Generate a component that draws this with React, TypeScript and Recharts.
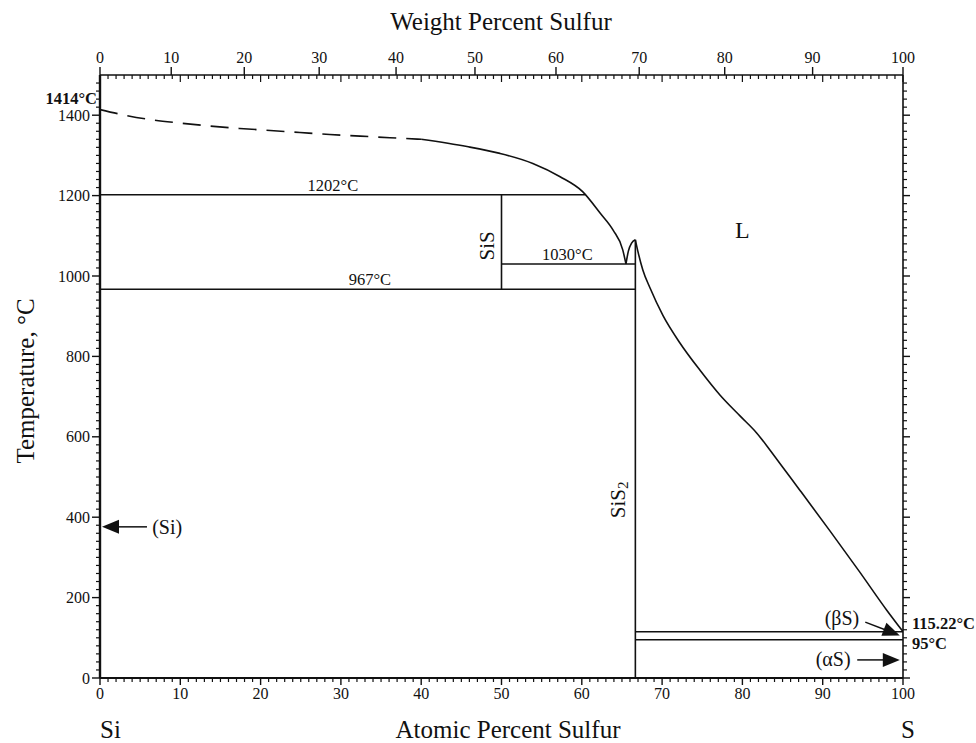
import React from 'react';
import { ComposedChart, Line, XAxis, YAxis, ReferenceLine, ReferenceDot } from 'recharts';

const FONT = '"Liberation Serif", "Times New Roman", serif';
const INK = '#111';

// atomic weights, used to place the weight-percent scale on top
const M_SI = 28.0855;
const M_S = 32.06;

const weightTicks = [0, 10, 20, 30, 40, 50, 60, 70, 80, 90, 100];
const atomicTicks = [0, 10, 20, 30, 40, 50, 60, 70, 80, 90, 100];
const tempTicks = [0, 200, 400, 600, 800, 1000, 1200, 1400];

// liquidus, Si side (dashed = estimated)
const liquidusDashed = [
  { a: 0, t: 1414 },
  { a: 3.1, t: 1400 },
  { a: 6.6, t: 1388 },
  { a: 10.2, t: 1380 },
  { a: 13.7, t: 1373 },
  { a: 17.4, t: 1367 },
  { a: 21.2, t: 1362 },
  { a: 24.9, t: 1357 },
  { a: 28.6, t: 1352 },
  { a: 32.4, t: 1348 },
  { a: 36.1, t: 1344 },
  { a: 40.0, t: 1340 },
];

const liquidusSolid = [
  { a: 40.0, t: 1340 },
  { a: 45.7, t: 1322 },
  { a: 49.8, t: 1305 },
  { a: 53.9, t: 1280 },
  { a: 57.3, t: 1247 },
  { a: 60.1, t: 1210 },
  { a: 62.3, t: 1156 },
  { a: 63.9, t: 1114 },
  { a: 65.1, t: 1065 },
  { a: 65.5, t: 1030 },
];

// eutectic up to the SiS2 congruent melting point
const sis2LeftBranch = [
  { a: 65.5, t: 1030 },
  { a: 65.8, t: 1062 },
  { a: 66.2, t: 1082 },
  { a: 66.67, t: 1090 },
];

const sis2RightBranch = [
  { a: 66.67, t: 1090 },
  { a: 67.0, t: 1060 },
  { a: 67.6, t: 1015 },
  { a: 68.5, t: 970 },
  { a: 70.1, t: 902 },
  { a: 72.2, t: 834 },
  { a: 74.7, t: 766 },
  { a: 77.2, t: 704 },
  { a: 79.7, t: 652 },
  { a: 81.8, t: 609 },
  { a: 83.4, t: 568 },
  { a: 85.0, t: 525 },
  { a: 87.2, t: 466 },
  { a: 90.9, t: 366 },
  { a: 94.6, t: 264 },
  { a: 98.0, t: 168 },
  { a: 100, t: 115.22 },
];

// horizontal invariant lines: temperature, from, to (at.% S)
const isotherms = [
  { t: 1202, from: 0, to: 60.4 },
  { t: 1030, from: 50, to: 66.67 },
  { t: 967, from: 0, to: 66.67 },
  { t: 115.22, from: 66.67, to: 100 },
  { t: 95, from: 66.67, to: 100 },
];

// line compounds: composition, bottom, top
const compounds = [
  { a: 50, from: 967, to: 1202 },
  { a: 66.67, from: 0, to: 1090 },
];

const toAtomic = (w: number) => {
  const s = w / M_S;
  const si = (100 - w) / M_SI;
  return (100 * s) / (s + si);
};

const wtPositions = weightTicks.map(toAtomic);
const atMinor = Array.from({ length: 101 }, (_, i) => i);
const topTicks = Array.from(new Set([...atMinor, ...wtPositions])).sort((p, q) => p - q);
const tempMinor = Array.from({ length: 75 }, (_, i) => i * 20);

function TopTick({ x, y, payload }: any) {
  const v = payload.value;
  const wi = wtPositions.findIndex((p) => Math.abs(p - v) < 1e-6);
  const isAt = Math.abs(v - Math.round(v)) < 1e-6;
  return (
    <g>
      {isAt && (
        <line x1={x} y1={y} x2={x} y2={y + (Math.round(v) % 10 === 0 ? 7 : 4)} stroke={INK} strokeWidth={1.2} />
      )}
      {wi >= 0 && (
        <>
          <line x1={x} y1={y} x2={x} y2={y - 8} stroke={INK} strokeWidth={1.4} />
          <text x={x} y={y - 12} textAnchor="middle" fontSize={16} fontFamily={FONT} fill={INK}>
            {weightTicks[wi]}
          </text>
        </>
      )}
    </g>
  );
}

function BottomTick({ x, y, payload }: any) {
  const v = payload.value;
  const major = atomicTicks.includes(v);
  return (
    <g>
      <line x1={x} y1={y} x2={x} y2={y + (major ? 7 : 4)} stroke={INK} strokeWidth={major ? 1.4 : 1.2} />
      {major && (
        <text x={x} y={y + 21} textAnchor="middle" fontSize={16} fontFamily={FONT} fill={INK}>
          {v}
        </text>
      )}
    </g>
  );
}

function LeftTick({ x, y, payload }: any) {
  const v = payload.value;
  const major = tempTicks.includes(v);
  return (
    <g>
      <line x1={x} y1={y} x2={x - (major ? 8 : 4)} y2={y} stroke={INK} strokeWidth={major ? 1.4 : 1.2} />
      {major && (
        <text x={x - 10} y={y + 5.5} textAnchor="end" fontSize={16} fontFamily={FONT} fill={INK}>
          {v}
        </text>
      )}
    </g>
  );
}

function RightTick({ x, y, payload }: any) {
  const v = payload.value;
  const major = tempTicks.includes(v);
  return <line x1={x} y1={y} x2={x + (major ? 7 : 4)} y2={y} stroke={INK} strokeWidth={major ? 1.4 : 1.2} />;
}

function ArrowShape(props: any) {
  const { x1, y1, x2, y2 } = props;
  const dx = x2 - x1;
  const dy = y2 - y1;
  const len = Math.hypot(dx, dy) || 1;
  const ux = dx / len;
  const uy = dy / len;
  const hl = 17;
  const hw = 7;
  const bx = x2 - ux * hl;
  const by = y2 - uy * hl;
  return (
    <g>
      <line x1={x1} y1={y1} x2={bx + ux * 2} y2={by + uy * 2} stroke={INK} strokeWidth={1.5} />
      <polygon
        points={`${x2},${y2} ${bx - uy * hw},${by + ux * hw} ${bx + uy * hw},${by - ux * hw}`}
        fill={INK}
      />
    </g>
  );
}

const axisIds = { xAxisId: 'at', yAxisId: 'left' } as const;

function note(key: string, a: number, t: number, render: (cx: number, cy: number) => React.ReactElement) {
  return (
    <ReferenceDot
      key={key}
      {...axisIds}
      x={a}
      y={t}
      r={1}
      ifOverflow="visible"
      shape={(p: any) => render(p.cx, p.cy)}
    />
  );
}

export default function App() {
  const lineProps = {
    yAxisId: 'left',
    dataKey: 't',
    type: 'monotone' as const,
    stroke: INK,
    strokeWidth: 1.6,
    dot: false,
    activeDot: false,
    isAnimationActive: false,
  };

  return (
    <div style={{ position: 'absolute', left: 0, top: 0, width: 976, height: 743, background: '#fff' }}>
      <ComposedChart width={976} height={743} margin={{ top: 45, right: 43, bottom: 35, left: 60 }}>
        <XAxis
          xAxisId="at"
          type="number"
          dataKey="a"
          orientation="bottom"
          domain={[0, 100]}
          allowDataOverflow
          ticks={atMinor}
          interval={0}
          height={30}
          tickSize={0}
          tickMargin={0}
          tickLine={false}
          tick={<BottomTick />}
          axisLine={{ stroke: INK, strokeWidth: 2 }}
        />
        <XAxis
          xAxisId="top"
          type="number"
          dataKey="a"
          orientation="top"
          domain={[0, 100]}
          allowDataOverflow
          ticks={topTicks}
          interval={0}
          height={30}
          tickSize={0}
          tickMargin={0}
          tickLine={false}
          tick={<TopTick />}
          axisLine={{ stroke: INK, strokeWidth: 1.6 }}
        />
        <YAxis
          yAxisId="left"
          type="number"
          domain={[0, 1500]}
          allowDataOverflow
          ticks={tempMinor}
          interval={0}
          width={40}
          tickSize={0}
          tickMargin={0}
          tickLine={false}
          tick={<LeftTick />}
          axisLine={{ stroke: INK, strokeWidth: 2.4 }}
        />
        <YAxis
          yAxisId="right"
          orientation="right"
          type="number"
          domain={[0, 1500]}
          allowDataOverflow
          ticks={tempMinor}
          interval={0}
          width={30}
          tickSize={0}
          tickMargin={0}
          tickLine={false}
          tick={<RightTick />}
          axisLine={{ stroke: INK, strokeWidth: 1.6 }}
        />

        {isotherms.map((iso) => (
          <ReferenceLine
            key={`iso-${iso.t}`}
            {...axisIds}
            segment={[
              { x: iso.from, y: iso.t },
              { x: iso.to, y: iso.t },
            ]}
            stroke={INK}
            strokeWidth={1.5}
            ifOverflow="visible"
          />
        ))}
        {compounds.map((c) => (
          <ReferenceLine
            key={`cmp-${c.a}`}
            {...axisIds}
            segment={[
              { x: c.a, y: c.from },
              { x: c.a, y: c.to },
            ]}
            stroke={INK}
            strokeWidth={1.6}
            ifOverflow="visible"
          />
        ))}

        {/* the dashed branch is read against the top axis (same 0-100 at.% domain) */}
        <Line {...lineProps} xAxisId="top" data={liquidusDashed} strokeDasharray="18 10" />
        <Line {...lineProps} xAxisId="at" data={liquidusSolid} />
        <Line {...lineProps} xAxisId="at" data={sis2LeftBranch} />
        <Line {...lineProps} xAxisId="at" data={sis2RightBranch} />

        {/* arrows to the terminal solid solutions */}
        <ReferenceLine {...axisIds} segment={[{ x: 5.85, y: 376 }, { x: 0.25, y: 376 }]} ifOverflow="visible" shape={ArrowShape} />
        <ReferenceLine {...axisIds} segment={[{ x: 95.3, y: 139 }, { x: 99.6, y: 106 }]} ifOverflow="visible" shape={ArrowShape} />
        <ReferenceLine {...axisIds} segment={[{ x: 94.3, y: 45 }, { x: 99.6, y: 45 }]} ifOverflow="visible" shape={ArrowShape} />

        {note('n1202', 29, 1202, (cx, cy) => (
          <text x={cx} y={cy - 4} textAnchor="middle" fontSize={16.5} fontFamily={FONT} fill={INK}>1202°C</text>
        ))}
        {note('n967', 33.6, 967, (cx, cy) => (
          <text x={cx} y={cy - 4} textAnchor="middle" fontSize={16.5} fontFamily={FONT} fill={INK}>967°C</text>
        ))}
        {note('n1030', 58.2, 1030, (cx, cy) => (
          <text x={cx} y={cy - 4} textAnchor="middle" fontSize={16.5} fontFamily={FONT} fill={INK}>1030°C</text>
        ))}
        {note('sis', 48.2, 1075, (cx, cy) => (
          <text x={cx} y={cy} transform={`rotate(-90 ${cx} ${cy})`} textAnchor="middle" dominantBaseline="central" fontSize={21} fontFamily={FONT} fill={INK}>SiS</text>
        ))}
        {note('sis2', 64.5, 443, (cx, cy) => (
          <text x={cx} y={cy} transform={`rotate(-90 ${cx} ${cy})`} textAnchor="middle" dominantBaseline="central" fontSize={21} fontFamily={FONT} fill={INK}>
            SiS<tspan fontSize={15} dy={5}>2</tspan>
          </text>
        ))}
        {note('liq', 80, 1114, (cx, cy) => (
          <text x={cx} y={cy} textAnchor="middle" dominantBaseline="central" fontSize={24} fontFamily={FONT} fill={INK}>L</text>
        ))}
        {note('si', 6.5, 376, (cx, cy) => (
          <text x={cx} y={cy} dominantBaseline="central" fontSize={20} fontFamily={FONT} fill={INK}>(Si)</text>
        ))}
        {note('beta', 92.4, 149, (cx, cy) => (
          <text x={cx} y={cy} textAnchor="middle" dominantBaseline="central" fontSize={20} fontFamily={FONT} fill={INK}>(βS)</text>
        ))}
        {note('alpha', 91.3, 47, (cx, cy) => (
          <text x={cx} y={cy} textAnchor="middle" dominantBaseline="central" fontSize={20} fontFamily={FONT} fill={INK}>(αS)</text>
        ))}
        {note('t1414', 0, 1414, (cx, cy) => (
          <text x={cx - 3} y={cy - 6} textAnchor="end" fontSize={16.5} fontWeight="bold" fontFamily={FONT} fill={INK}>1414°C</text>
        ))}
        {note('t115', 100, 115.22, (cx, cy) => (
          <text x={cx + 9} y={cy - 3} fontSize={16.5} fontWeight="bold" fontFamily={FONT} fill={INK}>115.22°C</text>
        ))}
        {note('t95', 100, 95, (cx, cy) => (
          <text x={cx + 9} y={cy + 9} fontSize={16.5} fontWeight="bold" fontFamily={FONT} fill={INK}>95°C</text>
        ))}
      </ComposedChart>

      <svg width={976} height={743} style={{ position: 'absolute', left: 0, top: 0, pointerEvents: 'none' }}>
        <g fontFamily={FONT} fontSize={25} fill={INK}>
          <text x={501} y={30} textAnchor="middle">Weight Percent Sulfur</text>
          <text x={25} y={381} transform="rotate(-90 25 381)" textAnchor="middle" dominantBaseline="central">
            Temperature, °C
          </text>
          <text x={508} y={738} textAnchor="middle">Atomic Percent Sulfur</text>
          <text x={100} y={738}>Si</text>
          <text x={908} y={738} textAnchor="middle">S</text>
        </g>
      </svg>
    </div>
  );
}
